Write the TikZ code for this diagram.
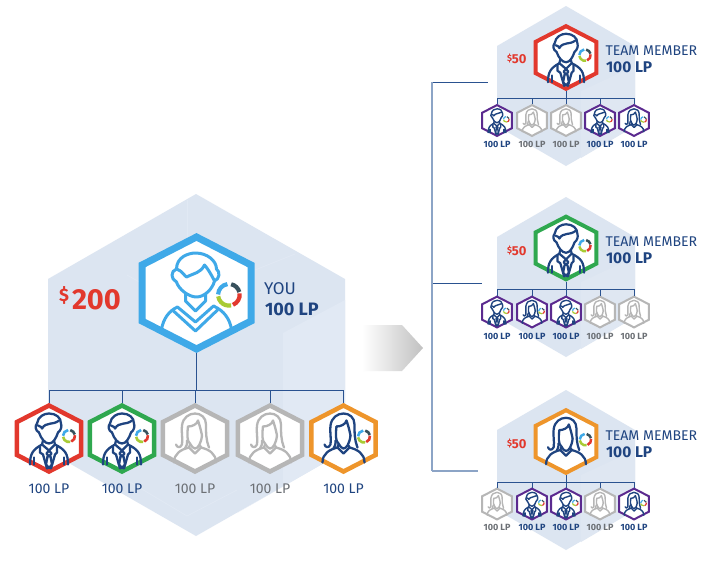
\documentclass[tikz,border=0pt]{standalone}
\usepackage{fontspec}
\setmainfont{Fira Sans}
\definecolor{bghex}{HTML}{DCE5F1}
\definecolor{facet}{HTML}{E1E9F4}
\definecolor{facetb}{HTML}{DFE7F2}
\definecolor{navy}{HTML}{1F4480}
\definecolor{bus}{HTML}{2A5290}
\definecolor{brk}{HTML}{8CA4C6}
\definecolor{hred}{HTML}{E2382D}
\definecolor{hgreen}{HTML}{2FA84F}
\definecolor{horange}{HTML}{EE952B}
\definecolor{hpurple}{HTML}{5B2A8F}
\definecolor{hgray}{HTML}{B6B6B6}
\definecolor{hblue}{HTML}{3FA9E8}
\definecolor{ringdark}{HTML}{37505C}
\definecolor{ringlime}{HTML}{A8CB35}
\definecolor{lblgray}{HTML}{6C7075}
\tikzset{
  x=1pt,y=-1pt,
  hexanchor/.style={inner sep=0pt,outer sep=0pt,rectangle},
  busline/.style={draw=bus,line width=0.9pt},
  brkline/.style={draw=brk,line width=1.4pt},
  brkarm/.style={draw=bus,line width=0.9pt},
  txt/.style={anchor=base west,inner sep=0pt,outer sep=0pt},
  ctxt/.style={anchor=base,inner sep=0pt,outer sep=0pt},
}
\newcommand{\ringmark}[2]{% x y (in icon units)
  \begin{scope}[shift={(#1,#2)},line width=2.6*\myisc pt]
    \draw[ringdark] (-78:6) arc[start angle=-78,end angle=-15,radius=6];
    \draw[hred] (-8:6) arc[start angle=-8,end angle=68,radius=6];
    \draw[ringlime] (78:6) arc[start angle=78,end angle=172,radius=6];
    \draw[hblue] (182:6) arc[start angle=182,end angle=262,radius=6];
  \end{scope}}
\newcommand{\iconman}[1]{%
  \begin{scope}[draw=#1,line width=\myilw pt,line join=round,line cap=round]
    % hair
    \draw (-10,-6) .. controls (-14,-8) and (-14,-13) .. (-12,-15) .. controls (-11,-22) and (-5,-25) .. (0,-25) .. controls (7,-25) and (12,-21) .. (12,-15) .. controls (13,-12) and (12,-8) .. (9,-6);
    \draw (-11,-13) .. controls (-8,-13) and (-7,-10) .. (-7,-10) .. controls (-3,-17) and (4,-13) .. (10,-18);
    % face
    \draw (-10,-6) .. controls (-8,0) and (-4,5) .. (0,5) .. controls (4,5) and (7,0) .. (9,-6);
    % neck and collar
    \draw (-6,2) -- (-7,6) -- (0,12) -- (6,6) -- (5,2);
    % shoulders
    \draw (-19,26) .. controls (-19,15) and (-16,11) .. (-7,6);
    \draw (19,26) .. controls (19,15) and (16,11) .. (6,6);
    % lapels
    \draw (-9,8) -- (-9,14) -- (-6,16) -- (-2,30);
    \draw (8,8) -- (8,14) -- (6,16) -- (2,30);
    % tie
    \draw (0,12) -- (-2.5,15) -- (0,18) -- (2.5,15) -- cycle;
    \draw (-1.5,18) -- (-3,26) -- (0,29.5) -- (3,26) -- (1.5,18);
    \draw (-15,19) -- (-15,26);
    \draw (15,19) -- (15,26);
  \end{scope}
  \ringmark{20}{-2.5}}
\newcommand{\womanlines}[1]{%
  \begin{scope}[draw=#1,line width=\myilw pt,line join=round,line cap=round]
    % hair
    \draw (-19,6) .. controls (-18,9) and (-15,10) .. (-13,6) .. controls (-12,0) and (-14,-8) .. (-13,-13) .. controls (-12,-21) and (-6,-25) .. (0,-25) .. controls (6,-25) and (11,-21) .. (11,-14) .. controls (11,-6) and (11,2) .. (14,9);
    % face
    \draw (-7,-12) .. controls (-8,-4) and (-8,3) .. (-5,5) .. controls (-3,8) and (-2,10) .. (0,10) .. controls (3,10) and (6,5) .. (7,-3);
    % fringe
    \draw (-7,-12) .. controls (-3,-12) and (2,-14) .. (3,-18) .. controls (5,-12) and (6,-8) .. (7,-3);
    % inner hair strand
    \draw (-10,10) .. controls (-8,7) and (-8,6) .. (-8,2);
    % neck
    \draw (-5,6) -- (-6,9) -- (0,15) -- (6,9) -- (5,7);
    % shoulders
    \draw (-21,24) .. controls (-21,15) and (-14,11) .. (-6,9);
    \draw (21,24) .. controls (21,15) and (14,11) .. (6,9);
  \end{scope}}
\newcommand{\iconwoman}[1]{\womanlines{#1}\ringmark{20.5}{-2}}
\newcommand{\iconwgray}[1]{\womanlines{#1}}
% name, x, y, half height of stroke centre line, colour, line width, icon type, icon colour
\newcommand{\hexicon}[8]{%
  \pgfmathsetmacro\myhw{.97*#4}%
  \pgfmathsetmacro\mysh{.5*#4}%
  \pgfmathsetmacro\myisc{#4/33}%
  \pgfmathsetmacro\myilw{0.6+1.7*\myisc}%
  \pgfmathsetmacro\mywd{2*\myhw+#6}%
  \pgfmathsetmacro\myht{2*#4+1.1*#6}%
  \begin{scope}[shift={(#2,#3)}]
    \node[hexanchor,minimum width=\mywd pt,minimum height=\myht pt] (#1) at (0,0) {};
    \draw[line width=#6pt,draw=#5,fill=white,miter limit=6]
      (0,-#4) -- (\myhw,-\mysh) -- (\myhw,\mysh) -- (0,#4) -- (-\myhw,\mysh) -- (-\myhw,-\mysh) -- cycle;
    \begin{scope}[scale=\myisc]
      \csname icon#7\endcsname{#8}
    \end{scope}
  \end{scope}}
\newcommand{\bghexagon}[2]{% centre x, y, half width 69, half height 80
  \fill[bghex] (#1,#2-80) -- (#1+69,#2-40) -- (#1+69,#2+40) -- (#1,#2+80) -- (#1-69,#2+40) -- (#1-69,#2-40) -- cycle;}
\newcommand{\facetA}[2]{%
  \fill[facetb] (#1+15,#2+5) -- (#1+69,#2-20) -- (#1+69,#2+40) -- (#1+15,#2+72) -- cycle;}
\begin{document}
\begin{tikzpicture}
\useasboundingbox (0,0) rectangle (711,563);
\fill[white] (0,0) rectangle (711,563);

% large background hexagon
\fill[bghex] (196,194) -- (345,279) -- (345,451) -- (196,536) -- (48,451) -- (48,279) -- cycle;
\fill[facet] (283,333) -- (345,300) -- (345,451) -- (237,513) -- (283,486) -- cycle;
\draw[facet,line width=0.8pt] (130,482) -- (187,516) -- (237,490);
\draw[facet,line width=0.8pt] (187,200) -- (187,240);
\draw[facet,line width=0.8pt] (127,275) -- (150,288);
\draw[facet,line width=0.8pt] (255,270) -- (295,254);

% small background hexagons
\bghexagon{566}{86}
\bghexagon{566}{277}
\bghexagon{566}{470}
\facetA{566}{86}
\facetA{566}{277}
\facetA{566}{470}

% grey arrow
\shade[left color=white,right color=hgray!85] (362,325) -- (402,325) -- (423,348) -- (402,371) -- (362,371) -- cycle;

% YOU hexagon
\node[hexanchor,minimum width=117pt,minimum height=120pt] (you) at (196.5,293) {};
\draw[line width=7pt,draw=hblue,fill=white,miter limit=6]
  (196.5,237) -- (251,265) -- (251,321) -- (196.5,349) -- (142,321) -- (142,265) -- cycle;
\begin{scope}[shift={(196.5,293)},draw=hblue,line width=3pt,line join=round,line cap=round]
  \draw (-20,-11) .. controls (-26,-14) and (-26,-22) .. (-20,-24) .. controls (-20,-36) and (-8,-40) .. (-1,-40) .. controls (11,-40) and (20,-32) .. (20,-24) .. controls (24,-21) and (23,-14) .. (18,-12);
  \draw (-20,-24) .. controls (-14,-22) and (-12,-17) .. (-10,-16) .. controls (-2,-20) and (4,-20) .. (8,-28) .. controls (10,-26) and (14,-20) .. (18,-12);
  \draw (-20,-11) .. controls (-18,-4) and (-8,4) .. (0,4) .. controls (8,4) and (16,-4) .. (18,-12);
  \draw (-11,1) -- (-11,8) -- (-1,18) -- (9,8) -- (9,1);
  \draw (-35,36) .. controls (-33,26) and (-28,18) .. (-19,14);
  \draw (35,36) .. controls (33,26) and (28,18) .. (17,13);
  \draw (-19,14) -- (-1,29) -- (17,13);
  \draw (-23,18) -- (-1,38) -- (21,17);
\end{scope}
\pgfmathsetmacro\myisc{1.6}
\begin{scope}[shift={(196.5,293)},scale=1.8]
  \ringmark{18}{1}
\end{scope}

% row below YOU
\hexicon{a1}{49}{438.5}{33}{hred}{4.5}{man}{navy}
\hexicon{a2}{122}{438.5}{33}{hgreen}{4.5}{man}{navy}
\hexicon{a3}{195}{438.5}{33}{hgray}{4.5}{wgray}{hgray}
\hexicon{a4}{270}{438.5}{33}{hgray}{4.5}{wgray}{hgray}
\hexicon{a5}{343.5}{438.5}{33}{horange}{4.5}{woman}{navy}

% team member 1
\hexicon{b}{566}{57.5}{31.3}{hred}{4}{man}{navy}
\hexicon{b1}{497}{120.5}{15.4}{hpurple}{2}{man}{navy}
\hexicon{b2}{532}{120.5}{15.4}{hgray}{2}{wgray}{hgray}
\hexicon{b3}{566}{120.5}{15.4}{hgray}{2}{wgray}{hgray}
\hexicon{b4}{600}{120.5}{15.4}{hpurple}{2}{man}{navy}
\hexicon{b5}{634}{120.5}{15.4}{hpurple}{2}{woman}{navy}

% team member 2
\hexicon{c}{566}{248}{31.3}{hgreen}{4}{man}{navy}
\hexicon{c1}{497}{312}{15.4}{hpurple}{2}{man}{navy}
\hexicon{c2}{532}{312}{15.4}{hpurple}{2}{woman}{navy}
\hexicon{c3}{566}{312}{15.4}{hpurple}{2}{man}{navy}
\hexicon{c4}{600}{312}{15.4}{hgray}{2}{wgray}{hgray}
\hexicon{c5}{634}{312}{15.4}{hgray}{2}{wgray}{hgray}

% team member 3
\hexicon{d}{566}{441.5}{31.3}{horange}{4}{woman}{navy}
\hexicon{d1}{497}{504}{15.4}{hgray}{2}{wgray}{hgray}
\hexicon{d2}{532}{504}{15.4}{hpurple}{2}{man}{navy}
\hexicon{d3}{566}{504}{15.4}{hpurple}{2}{man}{navy}
\hexicon{d4}{600}{504}{15.4}{hgray}{2}{wgray}{hgray}
\hexicon{d5}{634}{504}{15.4}{hpurple}{2}{woman}{navy}

% connectors: YOU row
\coordinate (busA) at (196.5,390);
\draw[busline] (you.south) -- (you.south |- busA);
\draw[busline] (a1.north |- busA) -- (a5.north |- busA);
\foreach \n in {a1,a2,a3,a4,a5} \draw[busline] (\n.north |- busA) -- (\n.north);

% connectors: team rows
\coordinate (busB) at (566,98);
\coordinate (busC) at (566,289);
\coordinate (busD) at (566,482);
\draw[busline] (b.south) -- (b.south |- busB);
\draw[busline] (b1.north |- busB) -- (b5.north |- busB);
\foreach \n in {b1,b2,b3,b4,b5} \draw[busline] (\n.north |- busB) -- (\n.north);
\draw[busline] (c.south) -- (c.south |- busC);
\draw[busline] (c1.north |- busC) -- (c5.north |- busC);
\foreach \n in {c1,c2,c3,c4,c5} \draw[busline] (\n.north |- busC) -- (\n.north);
\draw[busline] (d.south) -- (d.south |- busD);
\draw[busline] (d1.north |- busD) -- (d5.north |- busD);
\foreach \n in {d1,d2,d3,d4,d5} \draw[busline] (\n.north |- busD) -- (\n.north);

% bracket
\coordinate (brT) at (432,82);
\coordinate (brM) at (432,283);
\coordinate (brB) at (432,471);
\coordinate (armT) at (488,82);
\coordinate (armM) at (482,283);
\coordinate (armB) at (478,471);
\draw[brkarm] (brT) -- (armT);
\draw[brkarm] (brM) -- (armM);
\draw[brkline] (brB) -- (armB);
\draw[brkline] (brT) -- (brB);

% YOU texts
\node[txt,text=hred,font=\fontsize{18}{18}\selectfont\bfseries] (dollar) at (59,301) {\$};
\node[txt,text=hred,font=\fontsize{29}{29}\selectfont\bfseries] (amount) at (72,309) {200};
\node[txt,text=navy,font=\fontsize{17}{17}\selectfont] (youlbl) at (264,294) {YOU};
\node[txt,text=navy,font=\fontsize{18}{18}\selectfont\bfseries] (youlp) at (265,315) {100 LP};

% row labels
\foreach \n/\c in {a1/navy,a2/navy,a3/lblgray,a4/lblgray,a5/navy}
  \node[ctxt,text=\c,font=\fontsize{14}{14}\selectfont] (t\n) at (\n.south |- 0,493) {100 LP};

% team texts
\foreach \n/\a/\b/\m in {b/55/72/63,c/246/263/255,d/440/457/448}{
  \node[txt,text=navy,font=\fontsize{14.1}{14}\selectfont] (tm\n) at (605.5,\a) {TEAM MEMBER};
  \node[txt,text=navy,font=\fontsize{15.5}{15.5}\selectfont\bfseries] (lp\n) at (606,\b) {100 LP};
  \node[txt,text=hred,font=\fontsize{13}{13}\selectfont\bfseries] (m\n) at (507,\m) {\raisebox{2pt}{\fontsize{9}{9}\selectfont\$}50};
}

% mini labels
\foreach \n/\c in {b1/navy,b2/lblgray,b3/lblgray,b4/navy,b5/navy}
  \node[ctxt,text=\c,font=\fontsize{9}{9}\selectfont\bfseries] (t\n) at (\n.south |- 0,147) {100 LP};
\foreach \n/\c in {c1/navy,c2/navy,c3/navy,c4/lblgray,c5/lblgray}
  \node[ctxt,text=\c,font=\fontsize{9}{9}\selectfont\bfseries] (t\n) at (\n.south |- 0,339) {100 LP};
\foreach \n/\c in {d1/lblgray,d2/navy,d3/navy,d4/lblgray,d5/navy}
  \node[ctxt,text=\c,font=\fontsize{9}{9}\selectfont\bfseries] (t\n) at (\n.south |- 0,530) {100 LP};
\end{tikzpicture}
\end{document}
